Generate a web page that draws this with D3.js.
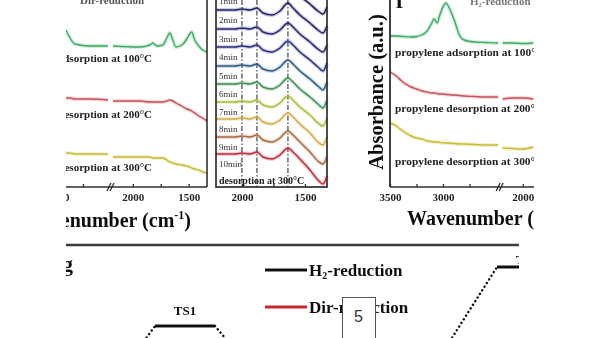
<!DOCTYPE html>
<html><head><meta charset="utf-8">
<script src="https://cdn.jsdelivr.net/npm/d3@7"></script>
<style>body{margin:0;background:#fff}svg{display:block}</style>
</head><body>
<svg id="c" width="600" height="338"></svg>
<script>
// ---------------- DATA ----------------
// Panel (left): Dir-reduction, spectra after propylene adsorption / desorption
const p1Wave   = [2920,2880,2830,2680,2500, 2178,1937,1847,1820,1785,1731,1696,1669,1642,1615,1562,1517,1491,1473,1446,1410,1375,1336];
const p1Ads100 = [158,150,144,142,142, 142,141,143,145,142,143,150,155,148,141,143,149,154,156,148,142,138,136];
const p1Des200 = [90,90,89,89,88, 87,87,86,86,86,86,87,88,87,85,82,79,78,77,75,72,70,67];
const p1Des300 = [35,35,34,34,34, 31,31,31,30,30,30,28,26,25,24,23,22,21,20,19,18,16,15];
const p1Labels = ["propylene adsorption at 100°C","propylene desorption at 200°C","propylene desorption at 300°C"];
const p1Ticks  = [3000,2750,2000,1750,1500];
const p1TickLabels = [3000,2000,1500];

// Panel (middle): desorption at 300 °C vs time
const p2Wave = [2206,2056,2000,1937,1881,1833,1762,1698,1635,1595,1540,1460,1397,1357,1325];
const p2Times = ["1min","2min","3min","4min","5min","6min","7min","8min","9min","10min"];
const p2Series = [
  [197,197,198,197,199,194,192,196,203,199,192,184,177,174,181],
  [178,178,179,178,180,175,173,177,185,180,173,165,158,155,162],
  [159,159,160,159,161,156,154,158,165,161,154,146,139,136,143],
  [141,141,142,141,143,138,136,140,147,143,136,128,121,117,125],
  [122,122,123,122,124,119,117,121,128,124,117,109,102,98,106],
  [104,104,105,104,106,101,99,103,110,106,99,91,84,80,88],
  [86,86,87,86,88,83,81,85,92,88,81,73,65,62,70],
  [69,69,70,69,71,66,64,68,75,71,64,55,46,43,51],
  [51,51,52,51,53,48,46,50,57,53,46,36,27,24,32],
  [34,34,35,34,36,31,29,33,40,36,29,18,8,4,12]
];
const p2Marks = [2000,1881,1635];
const p2Ticks = [2000,1750,1500];
const p2TickLabels = [2000,1500];

// Panel (right): H2-reduction
const p3Wave   = [3500,3440,3380,3300,3250,3200,3150,3110,3085,3055,3030,2990,2972,2950,2920,2887,2850,2800,2700,2600,2480, 2190,2100,2000,1900];
const p3Ads100 = [152,152,151.5,151,151.5,153,157,164,169,165,173,183,185,182,175,166,154,148,146,145.5,145, 145,145,144.5,145];
const p3Des200 = [116,112,106,101,99,97,96,95,95,94.5,94,94,93.5,93.5,93,93,92.5,92,91.5,91,91, 89,90,90,89];
const p3Des300 = [65,62,57,52,50,49,47,46.5,46,46,45.5,45,45,45,44.5,44.5,44,44,43.5,43,43, 40,39.5,39,41];
const p3Ticks  = [3500,3250,3000,2750,2000,1750];
const p3TickLabels = [3500,3000,2000];

// Energy profile (bottom)
const stepNames = ["IS","TS1","IM1","IM2","TS2"];
const eH2  = [0.00,0.74,0.10,0.48,1.33];
const eDir = [-0.30,0.30,-0.40,0.20,0.50];
const legendNames = ["H\u2082-reduction","Dir-reduction"];

// ---------------- DRAW ----------------
const SERIF = "'Liberation Serif','Times New Roman',serif";
const svg = d3.select("#c");
const defs = svg.append("defs");
defs.append("filter").attr("id","soft").attr("x",-0.05).attr("y",-0.05).attr("width",1.1).attr("height",1.1)
  .append("feGaussianBlur").attr("stdDeviation",0.45);
defs.append("clipPath").attr("id","clipTop").append("rect").attr("x",66).attr("y",0).attr("width",468).attr("height",240);
defs.append("clipPath").attr("id","clipBot").append("rect").attr("x",66).attr("y",240).attr("width",453).attr("height",98);

const topG = svg.append("g").attr("clip-path","url(#clipTop)").append("g").attr("filter","url(#soft)");
const botG = svg.append("g").attr("clip-path","url(#clipBot)").append("g").attr("filter","url(#soft)");

const yA = d3.scaleLinear().domain([0,188]).range([188,0]);
const AX = "#2f2f2f";

function spectrum(g, xs, wave, vals, brk, color, w) {
  const pts = wave.map((d,i)=>[d, vals[i]]);
  const segs = brk ? [pts.filter(p=>p[0]>=brk[0]), pts.filter(p=>p[0]<=brk[1])] : [pts];
  const line = d3.line().x(p=>xs(p[0])).y(p=>yA(p[1])).curve(d3.curveMonotoneX);
  segs.forEach(s=>{
    g.append("path").attr("d",line(s)).attr("fill","none").attr("stroke",color).attr("stroke-opacity",0.22).attr("stroke-width",4);
    g.append("path").attr("d",line(s)).attr("fill","none").attr("stroke",color).attr("stroke-width",w||1.4);
  });
}
function bottomAxis(g, xs, y, ticks, labels) {
  const ax = d3.axisBottom(xs).tickValues(ticks).tickFormat(d=>labels.includes(d)?d:"")
    .tickSizeInner(-3).tickSizeOuter(0).tickPadding(6);
  const a = g.append("g").attr("transform",`translate(0,${y})`).call(ax);
  a.select(".domain").remove();
  a.selectAll("line").attr("stroke",AX).attr("stroke-width",1.3);
  a.selectAll("text").attr("font-family",SERIF).attr("font-weight","bold").attr("font-size",11).attr("fill","#222");
}
function breakMark(g, x, y) {
  [0,3].forEach(o=>g.append("line").attr("x1",x-3+o).attr("y1",y+4).attr("x2",x+1+o).attr("y2",y-4)
    .attr("stroke",AX).attr("stroke-width",1.3));
}

// Panel 1
const x1 = d3.scaleLinear().domain([3200,2480,2200,1336]).range([38,110,110.5,207]);
const brk1 = [2480,2200];
spectrum(topG, x1, p1Wave, p1Ads100, brk1, "#3dab62");
spectrum(topG, x1, p1Wave, p1Des200, brk1, "#c9505a");
spectrum(topG, x1, p1Wave, p1Des300, brk1, "#c8bb32");
topG.append("line").attr("x1",30).attr("x2",207).attr("y1",187).attr("y2",187).attr("stroke",AX).attr("stroke-width",1.6);
topG.append("line").attr("x1",207).attr("x2",207).attr("y1",0).attr("y2",187).attr("stroke",AX).attr("stroke-width",1.6);
bottomAxis(topG, x1, 187, p1Ticks, p1TickLabels);
breakMark(topG, x1(2480), 187);
[62,118,171].forEach((b,i)=>topG.append("text").attr("x",152).attr("y",b).attr("text-anchor","end")
  .attr("font-family",SERIF).attr("font-weight","bold").attr("font-size",11).attr("fill","#222").text(p1Labels[i]));
topG.append("text").attr("x",80).attr("y",4).attr("font-family",SERIF).attr("font-weight","bold").attr("font-size",11).attr("fill","#555").text("Dir-reduction");
const xl1 = topG.append("text").attr("x",191).attr("y",227).attr("text-anchor","end").attr("font-family",SERIF)
  .attr("font-weight","bold").attr("font-size",20).attr("fill","#111");
xl1.append("tspan").text("Wavenumber (cm");
xl1.append("tspan").attr("font-size",12).attr("dy",-8).text("-1");
xl1.append("tspan").attr("dy",8).text(")");

// Panel 2
const x2 = d3.scaleLinear().domain([2206,1325]).range([216,327]);
const p2Colors = ["#1e1e5a","#23236b","#262676","#2b2f82","#2a5c88","#3f8f55","#a5c03c","#d0ad45","#ad6a40","#c42a3a"];
p2Marks.forEach(w=>topG.append("line").attr("x1",x2(w)).attr("x2",x2(w)).attr("y1",0).attr("y2",187)
  .attr("stroke","#333").attr("stroke-width",1.1).attr("stroke-dasharray","5,2,1.5,2"));
p2Series.forEach((s,i)=>spectrum(topG, x2, p2Wave, s, null, p2Colors[i], 1.5));
p2Series.forEach((s,i)=>topG.append("text").attr("x",219).attr("y",yA(s[0])+13).attr("font-family",SERIF)
  .attr("font-size",9).attr("fill","#333").text(p2Times[i]));
topG.append("text").attr("x",219).attr("y",184).attr("font-family",SERIF).attr("font-weight","bold").attr("font-size",10).attr("fill","#222").text("desorption at 300°C");
topG.append("rect").attr("x",216).attr("y",-5).attr("width",111).attr("height",192).attr("fill","none").attr("stroke",AX).attr("stroke-width",1.7);
bottomAxis(topG, x2, 187, p2Ticks, p2TickLabels);

// Panel 3
const x3 = d3.scaleLinear().domain([3500,2460,2210,1300]).range([390,500.2,500.5,597]);
const brk3 = [2470,2200];
spectrum(topG, x3, p3Wave, p3Ads100, brk3, "#3dab62");
spectrum(topG, x3, p3Wave, p3Des200, brk3, "#c9505a");
spectrum(topG, x3, p3Wave, p3Des300, brk3, "#c8bb32");
topG.append("line").attr("x1",390).attr("x2",540).attr("y1",187).attr("y2",187).attr("stroke",AX).attr("stroke-width",1.6);
topG.append("line").attr("x1",390).attr("x2",390).attr("y1",0).attr("y2",187).attr("stroke",AX).attr("stroke-width",1.8);
bottomAxis(topG, x3, 187, p3Ticks, p3TickLabels);
breakMark(topG, x3(2470), 187);
[56,112,165].forEach((b,i)=>topG.append("text").attr("x",395).attr("y",b).attr("font-family",SERIF)
  .attr("font-weight","bold").attr("font-size",11.4).attr("fill","#222").text(p1Labels[i]));
topG.append("text").attr("transform","translate(383,92) rotate(-90)").attr("text-anchor","middle").attr("font-family",SERIF)
  .attr("font-weight","bold").attr("font-size",20.5).attr("fill","#111").text("Absorbance (a.u.)");
topG.append("text").attr("x",396).attr("y",8).attr("font-family",SERIF).attr("font-weight","bold").attr("font-size",22).attr("fill","#111").text("f");
topG.append("text").attr("x",470).attr("y",5).attr("font-family",SERIF).attr("font-weight","bold").attr("font-size",11).attr("fill","#777").text("H\u2082-reduction");
topG.append("text").attr("x",407).attr("y",225).attr("font-family",SERIF).attr("font-weight","bold").attr("font-size",20).attr("fill","#111").text("Wavenumber (cm\u207B\u00B9)");

// Bottom: energy profile
botG.append("line").attr("x1",60).attr("x2",520).attr("y1",245).attr("y2",245).attr("stroke","#3a3a3a").attr("stroke-width",2.4);
botG.append("text").attr("x",73).attr("y",271).attr("text-anchor","end").attr("font-family",SERIF).attr("font-weight","bold").attr("font-size",22).attr("fill","#111").text("g");
const xs = d3.scaleLinear().domain([0,4]).range([71,527]);
const ye = d3.scaleLinear().domain([0,1]).range([400,300]);
const HALF = 30;
[[eDir,"#c8282c"],[eH2,"#111"]].forEach(([e,col])=>{
  e.forEach((v,i)=>{
    botG.append("line").attr("x1",xs(i)-HALF).attr("x2",xs(i)+HALF).attr("y1",ye(v)).attr("y2",ye(v)).attr("stroke",col).attr("stroke-width",3);
    if(i<e.length-1) botG.append("line").attr("x1",xs(i)+HALF).attr("y1",ye(v)).attr("x2",xs(i+1)-HALF).attr("y2",ye(e[i+1]))
      .attr("stroke",col).attr("stroke-width",2.4).attr("stroke-linecap","round").attr("stroke-dasharray","0.1,4.2");
  });
});
stepNames.forEach((n,i)=>{ if(n.startsWith("TS")) botG.append("text").attr("x",xs(i)).attr("y",ye(eH2[i])-(i===1?11:3)).attr("text-anchor","middle")
  .attr("font-family",SERIF).attr("font-weight","bold").attr("font-size",13).attr("fill","#111").text(n); });
[["#111",270],["#c8282c",307]].forEach(([col,y],i)=>{
  botG.append("line").attr("x1",265).attr("x2",307).attr("y1",y).attr("y2",y).attr("stroke",col).attr("stroke-width",3);
  const t = botG.append("text").attr("x",309).attr("y",y+6).attr("font-family",SERIF).attr("font-weight","bold").attr("font-size",17).attr("fill","#111");
  if(i===0){ t.append("tspan").text("H"); t.append("tspan").attr("font-size",10).attr("dy",3).text("2"); t.append("tspan").attr("dy",-3).text("-reduction"); }
  else t.text(legendNames[1]);
});

// page-number box
svg.append("rect").attr("x",342.5).attr("y",297.5).attr("width",33).attr("height",45).attr("fill","#fff").attr("stroke","#555").attr("stroke-width",1);
svg.append("text").attr("x",358.5).attr("y",322).attr("text-anchor","middle").attr("font-family","'Liberation Sans','Noto Sans',sans-serif")
  .attr("font-size",16).attr("fill","#333").text("5");
</script>
</body></html>
